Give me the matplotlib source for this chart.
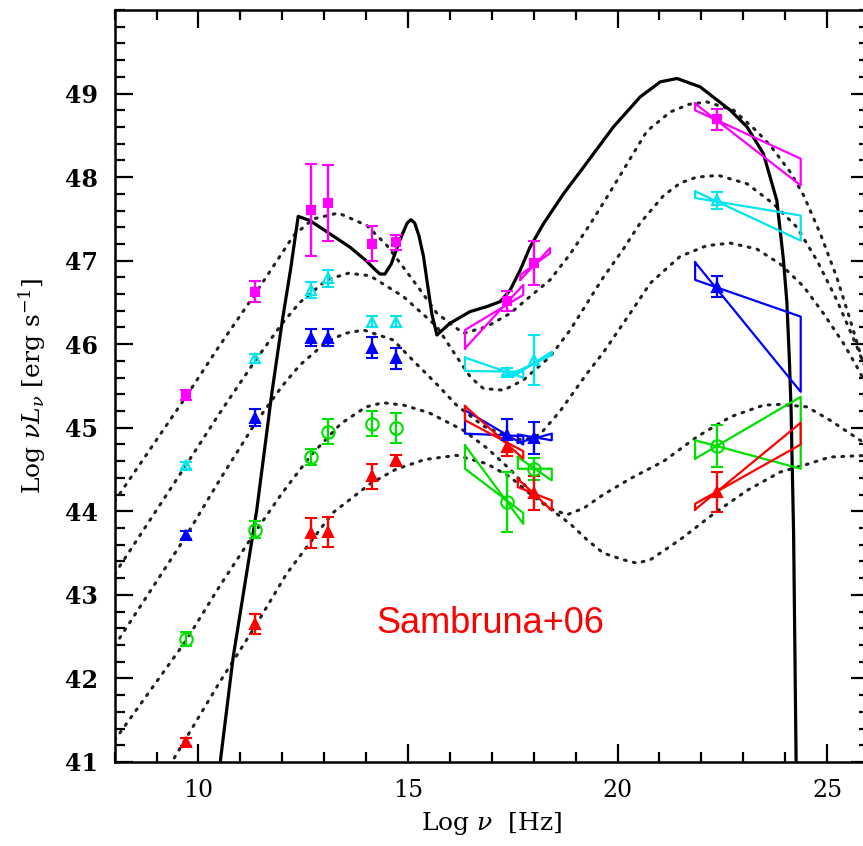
import matplotlib
matplotlib.use('Agg')
import matplotlib.pyplot as plt
from matplotlib.ticker import MultipleLocator

plt.rcParams['font.family'] = 'DejaVu Serif'
plt.rcParams['mathtext.fontset'] = 'dejavuserif'

# frequencies (log nu) of the measured points
nu_low = [9.70, 11.35, 12.69, 13.09, 14.14, 14.72]
nu_xray = [17.36, 18.01]
nu_gam = [22.37]

colors = ['#ff00ff', '#00e5ee', '#0000ff', '#00e000', '#ff0000']
markers = ['s', '^', '^', 'o', '^']
filled = [True, False, True, False, True]
msizes = [5.5, 7.5, 7.5, 9, 6.5]

# radio -> optical points (y, error) per source
low_y = [
    [45.39, 46.63, 47.61, 47.69, 47.20, 47.22],
    [44.55, 45.83, 46.65, 46.79, 46.27, 46.27],
    [43.72, 45.12, 46.08, 46.08, 45.96, 45.83],
    [42.47, 43.78, 44.65, 44.95, 45.05, 45.00],
    [41.24, 42.65, 43.74, 43.75, 44.42, 44.61],
]
low_err = [
    [0.06, 0.13, 0.55, 0.46, 0.21, 0.09],
    [0.04, 0.05, 0.10, 0.10, 0.07, 0.07],
    [0.05, 0.10, 0.10, 0.10, 0.13, 0.13],
    [0.08, 0.10, 0.10, 0.15, 0.15, 0.18],
    [0.05, 0.12, 0.18, 0.18, 0.15, 0.07],
]

# X-ray points
xray_y = [
    [46.52, 46.97],
    [45.67, 45.81],
    [44.91, 44.88],
    [44.11, 44.51],
    [44.77, 44.22],
]
xray_err = [
    [0.12, 0.26],
    [0.04, 0.30],
    [0.20, 0.19],
    [0.36, 0.13],
    [0.11, 0.20],
]

# gamma-ray points
gam_y = [[48.69], [47.72], [46.69], [44.78], [44.23]]
gam_err = [[0.13], [0.10], [0.13], [0.25], [0.24]]

# bowties: [x_left, x_right, line a (left, right), line b (left, right)]
bowties = [
    [[16.36, 17.75, 45.95, 46.71, 46.17, 46.59],
     [17.68, 18.39, 46.77, 47.15, 46.83, 47.09],
     [21.85, 24.37, 48.88, 47.90, 48.80, 48.22]],
    [[16.36, 17.75, 45.84, 45.60, 45.68, 45.67],
     [17.50, 18.43, 45.61, 45.91, 45.65, 45.87],
     [21.85, 24.37, 47.83, 47.24, 47.75, 47.54]],
    [[16.36, 17.75, 45.21, 44.80, 44.93, 44.90],
     [17.62, 18.43, 44.82, 44.93, 44.92, 44.85],
     [21.85, 24.37, 46.98, 45.43, 46.77, 46.33]],
    [[16.36, 17.75, 44.79, 43.85, 44.51, 43.98],
     [17.62, 18.43, 44.65, 44.37, 44.51, 44.51],
     [21.85, 24.37, 44.63, 45.37, 44.85, 44.51]],
    [[16.36, 17.75, 45.26, 44.63, 45.09, 44.72],
     [17.62, 18.43, 44.39, 44.01, 44.29, 44.13],
     [21.85, 24.37, 44.02, 45.06, 44.09, 44.80]],
]

# dotted model curves
d1_x = [8.0, 9.7, 10.5, 11.35, 12.27, 12.74, 13.34, 14.02, 14.5, 14.89, 15.29, 15.69,
        16.32, 16.88, 17.44, 17.91, 18.39, 18.87, 19.35, 19.82, 20.3, 20.7, 21.26,
        21.7, 22.13, 22.77, 23.32, 23.64, 24.12, 24.44, 24.84, 25.23, 25.55, 25.79, 26.0]
d1_y = [44.12, 45.37, 45.98, 46.6, 47.3, 47.5, 47.57, 47.42, 47.18, 46.92, 46.65, 46.37,
        46.13, 46.21, 46.37, 46.57, 46.77, 47.08, 47.44, 47.82, 48.22, 48.55, 48.78,
        48.87, 48.90, 48.80, 48.55, 48.38, 48.06, 47.78, 47.32, 46.80, 46.29, 45.89, 45.55]
d2_x = [8.0, 9.7, 10.5, 11.35, 12.0, 12.42, 13.06, 13.58, 14.09, 14.89, 15.69, 16.16,
        16.5, 16.8, 17.28, 17.75, 18.39, 18.87, 19.27, 19.66, 20.14, 20.54, 21.1, 21.5,
        21.89, 22.41, 23.09, 23.72, 24.28, 24.76, 25.23, 25.71, 26.0]
d2_y = [43.25, 44.55, 45.17, 45.8, 46.25, 46.5, 46.77, 46.85, 46.82, 46.57, 46.21, 45.85,
        45.6, 45.47, 45.45, 45.57, 45.85, 46.17, 46.49, 46.8, 47.14, 47.45, 47.78, 47.93,
        48.0, 48.02, 47.92, 47.68, 47.40, 47.0, 46.53, 45.97, 45.6]
d3_x = [8.0, 9.7, 10.5, 11.35, 12.0, 12.42, 13.06, 13.5, 13.94, 14.65, 15.13, 15.69,
        16.16, 16.8, 17.36, 17.75, 18.15, 18.63, 19.27, 19.66, 20.3, 20.78, 21.49, 22.13,
        22.69, 23.32, 23.88, 24.44, 24.91, 25.39, 25.71, 26.0]
d3_y = [42.39, 43.7, 44.37, 45.05, 45.5, 45.75, 46.03, 46.13, 46.17, 46.05, 45.8, 45.52,
        45.27, 45.02, 44.9, 44.85, 44.92, 45.2, 45.65, 45.9, 46.37, 46.73, 47.05, 47.18,
        47.21, 47.14, 46.96, 46.69, 46.37, 46.01, 45.73, 45.45]
d4_x = [8.0, 9.7, 10.5, 11.35, 12.0, 12.7, 13.4, 14.0, 14.4, 14.9, 15.5, 16.32, 16.9,
        17.44, 18.0, 18.4, 18.8, 19.2, 19.66, 20.3, 21.1, 21.89, 22.69, 23.48, 23.88,
        24.52, 25.07, 25.55, 26.0]
d4_y = [41.26, 42.45, 43.1, 43.75, 44.22, 44.68, 45.05, 45.25, 45.3, 45.27, 45.18, 44.97,
        44.75, 44.5, 44.2, 44.03, 43.96, 44.04, 44.2, 44.39, 44.6, 44.89, 45.13, 45.27,
        45.28, 45.25, 45.09, 44.93, 44.78]
d5_x = [9.2, 9.7, 10.5, 11.35, 12.1, 12.7, 13.2, 14.1, 14.7, 15.4, 16.16, 16.88, 17.44,
        17.91, 18.39, 18.87, 19.27, 19.66, 20.14, 20.46, 20.78, 21.49, 22.29, 23.09, 23.88,
        24.44, 25.07, 26.0]
d5_y = [40.86, 41.28, 41.95, 42.62, 43.25, 43.65, 43.98, 44.33, 44.5, 44.62, 44.67, 44.57,
        44.41, 44.21, 44.03, 43.85, 43.66, 43.5, 43.42, 43.38, 43.42, 43.66, 43.97, 44.25,
        44.47, 44.55, 44.65, 44.67]

# solid black model
bk_x = [10.48, 10.52, 10.83, 11.39, 11.75, 12.01, 12.20, 12.38, 12.66, 13.14, 13.62,
        14.00, 14.20, 14.33, 14.45, 14.60, 14.81, 14.98, 15.07, 15.16, 15.26, 15.37,
        15.47, 15.57, 15.69, 16.00, 16.48, 16.88, 17.20, 17.44, 17.68, 17.91, 18.23,
        18.71, 19.19, 19.90, 20.54, 21.02, 21.42, 21.97, 22.69, 23.09, 23.48, 23.80,
        23.96, 24.04, 24.10, 24.14, 24.20, 24.26]
bk_y = [40.85, 41.00, 42.26, 44.01, 45.41, 46.31, 46.90, 47.53, 47.48, 47.32, 47.16,
        47.00, 46.90, 46.84, 46.84, 46.96, 47.25, 47.45, 47.49, 47.45, 47.30, 47.05,
        46.70, 46.36, 46.11, 46.25, 46.39, 46.45, 46.51, 46.65, 46.89, 47.16, 47.44,
        47.80, 48.12, 48.60, 48.96, 49.14, 49.18, 49.08, 48.80, 48.60, 48.28, 47.72,
        47.00, 46.50, 45.81, 45.21, 43.74, 41.00]

fig = plt.figure(figsize=(8.63, 8.46), dpi=100)
ax = fig.add_axes([0.1328, 0.0993, 0.8742, 0.8889])

for cx, cy in [(d1_x, d1_y), (d2_x, d2_y), (d3_x, d3_y), (d4_x, d4_y), (d5_x, d5_y)]:
    ax.plot(cx, cy, color='#222222', lw=2.2, linestyle=(0, (0.6, 2.4)),
            dash_capstyle='round', zorder=2)

ax.plot(bk_x, bk_y, color='black', lw=2.3, zorder=3)

for i in range(5):
    c = colors[i]
    for xl, xr, la, ra, lb, rb in bowties[i]:
        ax.plot([xl, xr, xr, xl, xl], [la, ra, rb, lb, la], color=c, lw=1.6, zorder=4)
    xs = nu_low + nu_xray + nu_gam
    ys = low_y[i] + xray_y[i] + gam_y[i]
    es = low_err[i] + xray_err[i] + gam_err[i]
    ax.errorbar(xs, ys, yerr=es, fmt=markers[i], color=c, ms=msizes[i],
                mfc=c if filled[i] else 'none', mec=c, mew=1.5,
                elinewidth=1.7, capsize=4.5, capthick=1.7, zorder=5)

ax.text(16.96, 42.66, 'Sambruna+06', color='red', fontsize=26,
        family='Liberation Sans', ha='center', va='center')

ax.set_xlim(8, 26)
ax.set_ylim(41, 50)
ax.xaxis.set_major_locator(MultipleLocator(5))
ax.xaxis.set_minor_locator(MultipleLocator(1))
ax.yaxis.set_major_locator(MultipleLocator(1))
ax.yaxis.set_minor_locator(MultipleLocator(0.2))
ax.set_yticks([41, 42, 43, 44, 45, 46, 47, 48, 49])
ax.tick_params(which='both', direction='in', top=True, right=True, width=1.6)
ax.tick_params(which='major', length=13, labelsize=17, pad=12)
ax.tick_params(which='minor', length=7)
for lab in ax.get_yticklabels():
    lab.set_fontweight('bold')
for s in ax.spines.values():
    s.set_linewidth(1.8)

ax.set_xlabel(r'Log $\nu$  [Hz]', fontsize=18, labelpad=6)
ax.set_ylabel(r'Log $\nu L_\nu$ [erg s$^{-1}$]', fontsize=18, labelpad=12)

plt.savefig('out.png', dpi=100)
